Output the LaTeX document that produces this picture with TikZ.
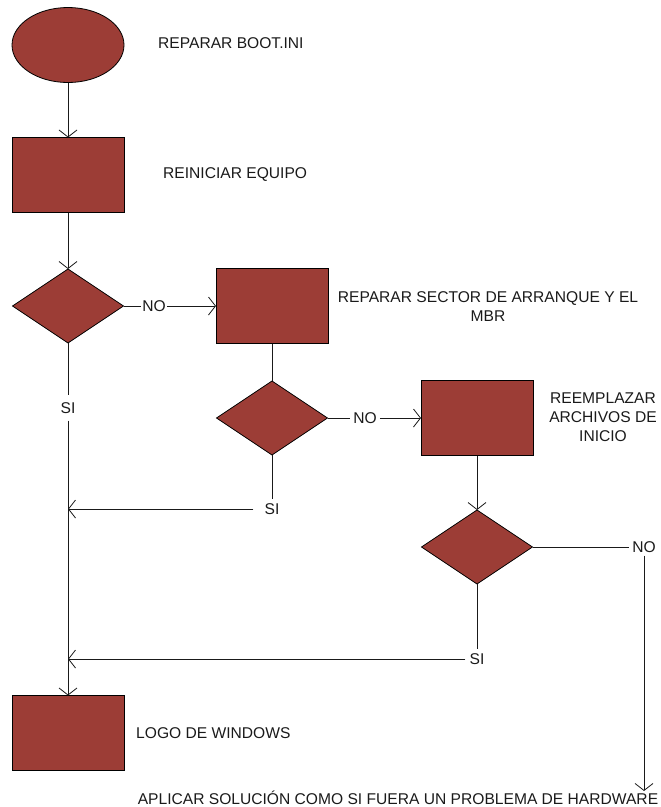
\documentclass[tikz,border=0pt]{standalone}
\usepackage{fontspec}
\setmainfont{Liberation Sans}
\usetikzlibrary{arrows.meta,shapes.geometric}

\definecolor{boxred}{HTML}{9C3D36}
\definecolor{ink}{HTML}{1A1A1A}

\tikzset{
  shapebase/.style={draw=black, line width=0.8pt, fill=boxred, inner sep=0pt, outer sep=0pt},
  procbox/.style={shapebase, rectangle, minimum width=112pt, minimum height=75pt},
  startbox/.style={shapebase, ellipse, minimum width=112pt, minimum height=75pt},
  decision/.style={shapebase, diamond, minimum width=111pt, minimum height=74pt},
  caption/.style={text=ink, inner sep=0pt, font=\fontsize{15.6}{19}\selectfont},
  tag/.style={text=ink, inner sep=2pt, font=\fontsize{15.6}{19}\selectfont},
  link/.style={draw=ink, line width=0.8pt},
  arr/.style={link, -{Straight Barb[length=7pt,width=18pt]}}
}

\begin{document}
\begin{tikzpicture}[x=1pt,y=-1pt]
  \useasboundingbox (0,0) rectangle (661,807);

  % flowchart shapes
  \node[startbox] (start) at (68,45) {};
  \node[procbox]  (r1) at (68,175) {};
  \node[decision] (d1) at (68,306) {};
  \node[procbox]  (r2) at (272,306) {};
  \node[decision] (d2) at (272,418) {};
  \node[procbox]  (r3) at (477,418) {};
  \node[decision] (d3) at (477,547) {};
  \node[procbox]  (r4) at (68,733) {};

  % captions beside the shapes
  \node[caption, anchor=west] (t1) at (158,43) {REPARAR BOOT.INI};
  \node[caption, anchor=west] (t2) at (163,175) {REINICIAR EQUIPO};
  \node[caption, align=center] (t3) at (488,307) {REPARAR SECTOR DE ARRANQUE Y EL\\MBR};
  \node[caption, align=center] (t4) at (603,417) {REEMPLAZAR\\ARCHIVOS DE\\INICIO};
  \node[caption, anchor=west] (t5) at (136,733) {LOGO DE WINDOWS};
  \node[caption] (final) at (398,798) {APLICAR SOLUCIÓN COMO SI FUERA UN PROBLEMA DE HARDWARE};

  % branch labels
  \node[tag, inner xsep=1pt] (no1) at (154,306) {NO};
  \node[tag, inner xsep=3pt] (no2) at (365,418) {NO};
  \node[tag, inner sep=3pt] (no3) at (644,547) {NO};
  \node[tag, inner xsep=1pt, inner ysep=7pt] (si1) at (68,408) {SI};
  \node[tag, inner xsep=11pt, inner ysep=4pt] (si2) at (272,509) {SI};
  \node[tag, inner sep=4pt] (si3) at (477,659) {SI};

  % junctions on the main trunk
  \coordinate (j1) at (r4.north |- si2);
  \coordinate (j2) at (r4.north |- si3);

  % connectors
  \draw[arr] (start) -- (r1);
  \draw[arr] (r1) -- (d1);
  \draw[link] (d1.east) -- (no1.west);
  \draw[arr] (no1.east) -- (r2.west);
  \draw[link] (d1.south) -- (si1.north);
  \draw[arr] (si1.south) -- (r4.north);

  \draw[link] (r2) -- (d2);
  \draw[link] (d2.east) -- (no2.west);
  \draw[arr] (no2.east) -- (r3.west);
  \draw[link] (d2.south) -- (si2.north);
  \draw[arr] (si2.west) -- (j1);

  \draw[arr] (r3) -- (d3);
  \draw[link] (d3.east) -- (no3.west);
  \draw[arr] (no3.south) -- (no3.south |- final.north);
  \draw[link] (d3.south) -- (si3.north);
  \draw[arr] (si3.west) -- (j2);
\end{tikzpicture}
\end{document}
